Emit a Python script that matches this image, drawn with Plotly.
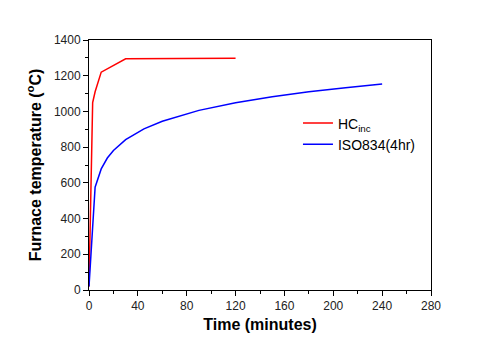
import plotly.graph_objects as go

# HC_inc (hydrocarbon modified) curve
hc_t = [0, 3, 5, 10, 30, 60, 90, 120]
hc_T = [20, 1050, 1110, 1220, 1295, 1297, 1298, 1298]

# ISO834 (4 hr) curve
iso_t = [0, 5, 10, 15, 20, 30, 45, 60, 90, 120, 150, 180, 210, 240]
iso_T = [20, 576, 678, 739, 781, 842, 902, 945, 1006, 1049, 1082, 1110, 1133, 1153]

x_ticks = [0, 40, 80, 120, 160, 200, 240, 280]
y_ticks = [0, 200, 400, 600, 800, 1000, 1200, 1400]

fig = go.Figure()
fig.add_trace(go.Scatter(x=hc_t, y=hc_T, mode="lines", name="HC<sub>inc</sub>",
                         line=dict(color="#ff0000", width=1.5)))
fig.add_trace(go.Scatter(x=iso_t, y=iso_T, mode="lines", name="ISO834(4hr)",
                         line=dict(color="#0000ff", width=1.5)))

axis_common = dict(showline=True, linecolor="#000", linewidth=1, mirror=True,
                   showgrid=False, zeroline=False, ticks="outside", ticklen=5,
                   tickcolor="#000", tickfont=dict(family="Arial", size=12, color="#222"))

fig.update_layout(
    width=500, height=349,
    margin=dict(l=89, r=69, t=40, b=59),
    paper_bgcolor="white", plot_bgcolor="white",
    font=dict(family="Arial", color="#000"),
    xaxis=dict(range=[0, 280], tickvals=x_ticks,
               minor=dict(dtick=20, ticklen=3, ticks="outside", tickcolor="#000"),
               title=dict(text="<b>Time (minutes)</b>", font=dict(size=16), standoff=6),
               **axis_common),
    yaxis=dict(range=[0, 1400], tickvals=y_ticks,
               minor=dict(dtick=100, ticklen=3, ticks="outside", tickcolor="#000"),
               title=dict(text="<b>Furnace temperature (<sup>o</sup>C)</b>", font=dict(size=16), standoff=8),
               **axis_common),
    legend=dict(x=0.611, y=0.73, xanchor="left", yanchor="top",
                bgcolor="rgba(0,0,0,0)", font=dict(family="Arial", size=14),
                itemwidth=30, tracegroupgap=2),
    showlegend=True,
)

fig.write_html("out.html")
